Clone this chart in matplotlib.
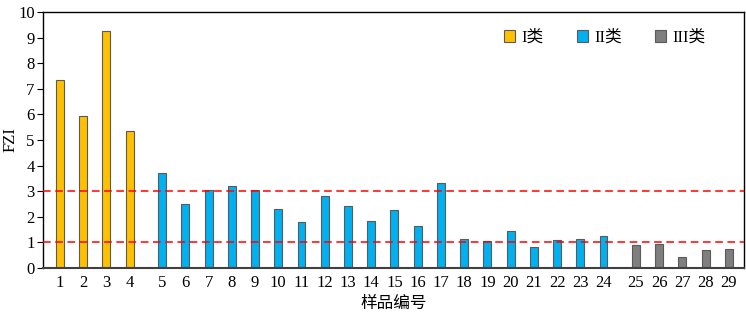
import matplotlib
matplotlib.use("Agg")
import matplotlib.pyplot as plt
from matplotlib.patches import Patch

plt.rcParams['font.family'] = ['Liberation Serif', 'Noto Sans CJK SC']

samples = [str(i) for i in range(1, 30)]
fzi = [7.35, 5.95, 9.26, 5.36,
       3.70, 2.48, 3.03, 3.21, 3.03, 2.31, 1.79, 2.82, 2.42, 1.84, 2.26, 1.62,
       3.33, 1.11, 1.03, 1.42, 0.81, 1.08, 1.12, 1.25,
       0.88, 0.92, 0.43, 0.68, 0.72]
groups = [0] * 4 + [1] * 20 + [2] * 5
group_names = ['I类', 'II类', 'III类']
group_colors = ['#FFC000', '#00B0F0', '#7F7F7F']
thresholds = [1, 3]

gap = 0.4
xpos = [i + 1 + g * gap for i, g in enumerate(groups)]

fig = plt.figure(figsize=(7.46, 3.13), dpi=100)
ax = fig.add_axes([43 / 746, 1 - 267.7 / 313, (744 - 43) / 746, (267.7 - 12.3) / 313])

ax.bar(xpos, fzi, width=0.34, color=[group_colors[g] for g in groups],
       edgecolor='#5a5a5a', linewidth=0.8, zorder=2)
for t in thresholds:
    ax.axhline(t, color='#FF0000', linestyle=(0, (5, 3)), linewidth=1.1, zorder=3)

ax.set_xlim(xpos[0] - 0.73, xpos[-1] + 0.65)
ax.set_ylim(0, 10)
ax.set_yticks(range(0, 11))
ax.set_xticks(xpos)
ax.set_xticklabels(samples)
ax.tick_params(axis='x', length=0, labelsize=12, pad=5)
ax.tick_params(axis='y', direction='out', length=4, labelsize=12, pad=2)
for s in ax.spines.values():
    s.set_linewidth(1.0)
    s.set_color('#000000')
ax.spines['bottom'].set_color('#404040')
ax.spines['bottom'].set_linewidth(1.5)

ax.set_ylabel('FZI', fontsize=12, va='center')
ax.yaxis.set_label_coords(-0.046, 0.5)
ax.set_xlabel('样品编号', fontsize=12, labelpad=4)

handles = [Patch(facecolor=c, edgecolor='#5a5a5a', linewidth=0.8) for c in group_colors]
ax.legend(handles, group_names, loc='upper right', ncol=3, frameon=False,
          fontsize=12, bbox_to_anchor=(0.967, 0.99), handlelength=0.65, handleheight=0.65,
          columnspacing=2.0, handletextpad=0.4)

fig.savefig('out.png', dpi=100)
